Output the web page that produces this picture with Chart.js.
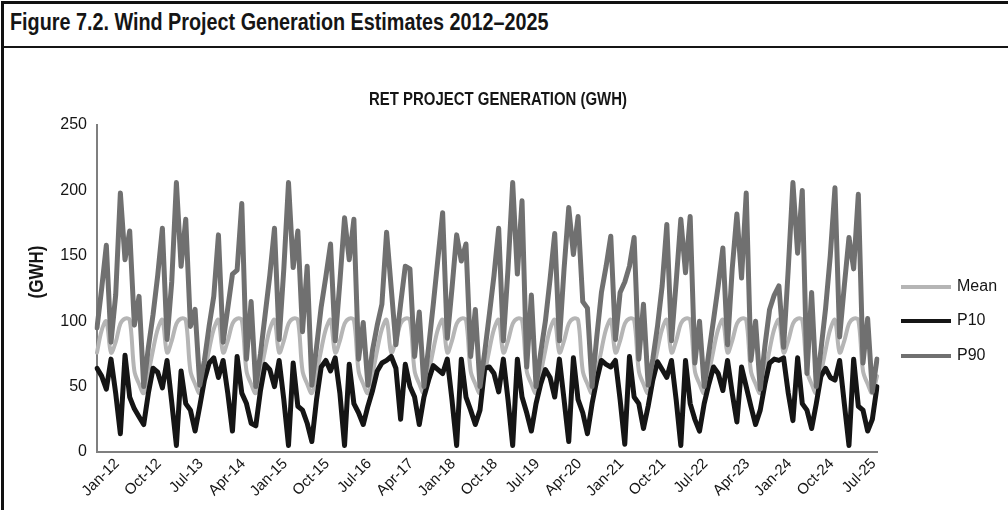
<!DOCTYPE html>
<html><head><meta charset="utf-8">
<script src="https://cdn.jsdelivr.net/npm/chart.js@4.4.1/dist/chart.umd.min.js"></script>
<style>
html,body{margin:0;padding:0;background:#fff;}
#wrap{position:relative;width:1008px;height:510px;overflow:hidden;background:#fff;}
#frame{position:absolute;left:1px;top:1px;width:1020px;height:530px;border-left:3px solid #111;border-top:3px solid #111;}
#fig{position:absolute;left:10px;top:9px;font-family:"Liberation Sans",Arial,sans-serif;font-weight:bold;font-size:23px;color:#151515;white-space:nowrap;transform:scaleX(0.86);transform-origin:0 0;}
#rule{position:absolute;left:4px;top:46px;width:1004px;height:2px;background:#151515;}
canvas{position:absolute;left:0;top:0;}
</style></head>
<body><div id="wrap"><div id="frame"></div><div id="fig">Figure 7.2. Wind Project Generation Estimates 2012–2025</div><div id="rule"></div><canvas id="c" width="1008" height="510"></canvas></div>
<script>
const MONTHS = ['Jan','Feb','Mar','Apr','May','Jun','Jul','Aug','Sep','Oct','Nov','Dec'];
const YEARS = ['12','13','14','15','16','17','18','19','20','21','22','23','24','25'];
const categories = [];
YEARS.forEach(y => MONTHS.forEach(m => categories.push(m + '-' + y)));

const tickLabels = ['Jan-12','Oct-12','Jul-13','Apr-14','Jan-15','Oct-15','Jul-16','Apr-17','Jan-18','Oct-18','Jul-19','Apr-20','Jan-21','Oct-21','Jul-22','Apr-23','Jan-24','Oct-24','Jul-25'];

const meanGWh = [
 76,93,100,76,84,98,102,101,62,52,45,60,
 78,94,101,76,85,98,102,101,62,52,45,60,
 78,94,101,76,85,98,102,101,62,52,45,60,
 78,94,101,76,85,98,102,101,62,52,45,60,
 78,94,101,76,85,98,102,101,62,52,45,60,
 78,94,101,76,85,98,102,101,62,52,45,60,
 78,94,101,76,85,98,102,101,62,52,45,60,
 78,94,101,76,85,98,102,101,62,52,45,60,
 78,94,101,76,85,98,102,101,62,52,45,60,
 78,94,101,76,85,98,102,101,62,52,45,60,
 78,94,101,76,85,98,102,101,62,52,45,60,
 78,94,101,76,85,98,102,101,62,52,45,60,
 78,94,101,76,85,98,102,101,62,52,45,60,
 78,94,101,76,85,98,102,101,62,52,45,58
];

const p10GWh = [
 64,58,48,71,45,14,74,42,33,27,21,45,
 64,61,49,70,38,5,62,37,32,16,35,55,
 68,72,57,70,45,16,73,45,37,22,20,47,
 67,63,50,70,40,5,68,35,32,22,8,40,
 65,70,62,72,45,5,67,37,30,21,35,47,
 62,68,70,73,64,25,67,50,42,21,42,55,
 66,63,60,71,40,5,71,42,32,21,32,64,
 65,60,46,71,40,5,71,42,30,16,37,52,
 63,57,42,71,40,8,72,40,30,14,37,55,
 70,67,65,70,40,6,73,42,37,18,35,55,
 69,63,57,70,40,5,70,37,25,16,37,52,
 65,60,47,70,45,23,65,50,35,21,32,52,
 68,71,70,72,45,24,72,37,32,18,37,58,
 64,57,55,70,37,5,71,35,32,16,25,50
];

const p90GWh = [
 95,125,158,84,120,198,147,169,97,119,50,80,
 105,135,171,86,130,206,142,178,96,109,51,70,
 96,119,166,84,110,136,139,190,71,115,50,75,
 105,135,171,86,140,206,141,169,92,142,51,80,
 111,134,159,85,130,179,147,178,71,99,51,78,
 97,113,168,125,82,113,142,140,73,107,50,80,
 113,148,183,87,125,166,146,159,73,109,50,76,
 105,135,171,85,140,206,136,192,65,120,50,76,
 100,132,167,85,140,187,151,180,115,110,50,88,
 122,142,165,86,122,130,142,164,71,113,51,71,
 96,127,174,85,130,178,137,180,68,100,50,76,
 101,127,156,82,140,182,133,198,70,100,48,81,
 109,120,127,80,140,206,152,200,60,122,50,78,
 110,150,202,88,127,164,140,197,68,102,46,71
];

const seriesNames = ['Mean','P10','P90'];
const seriesColors = ['#b5b5b5','#151515','#707070'];

const FONT = '"Liberation Sans", Arial, sans-serif';

const overlayPlugin = {
  id: 'overlay',
  afterDraw(chart) {
    const ctx = chart.ctx;
    const a = chart.chartArea;
    ctx.save();
    ctx.fillStyle = '#151515';
    ctx.textAlign = 'center';
    ctx.textBaseline = 'middle';
    // chart title (condensed look)
    ctx.save();
    ctx.translate(498, 100);
    ctx.scale(0.83, 1);
    ctx.font = 'bold 18px ' + FONT;
    ctx.fillText('RET PROJECT GENERATION (GWH)', 0, 0);
    ctx.restore();
    // y axis title
    ctx.save();
    ctx.translate(37, 272);
    ctx.rotate(-Math.PI / 2);
    ctx.scale(0.85, 1);
    ctx.font = 'bold 20px ' + FONT;
    ctx.fillText('(GWH)', 0, 0);
    ctx.restore();
    // legend
    const rows = [a.top + 162, a.top + 196, a.top + 231];
    ctx.font = '16px ' + FONT;
    ctx.textAlign = 'left';
    chart.data.datasets.forEach((ds, k) => {
      const y = rows[k];
      ctx.strokeStyle = ds.borderColor;
      ctx.lineWidth = 4;
      ctx.beginPath();
      ctx.moveTo(a.right + 24, y);
      ctx.lineTo(a.right + 74, y);
      ctx.stroke();
      ctx.fillStyle = '#151515';
      ctx.fillText(ds.label, a.right + 80, y);
    });
    ctx.restore();
  }
};

new Chart(document.getElementById('c'), {
  type: 'line',
  data: {
    labels: categories,
    datasets: [
      { label: seriesNames[0], data: meanGWh, borderColor: seriesColors[0], backgroundColor: seriesColors[0], borderWidth: 4, pointRadius: 0, tension: 0.35, order: 2, borderJoinStyle: 'round', borderCapStyle: 'round' },
      { label: seriesNames[1], data: p10GWh, borderColor: seriesColors[1], backgroundColor: seriesColors[1], borderWidth: 5, pointRadius: 0, tension: 0, order: 1, borderJoinStyle: 'round', borderCapStyle: 'round' },
      { label: seriesNames[2], data: p90GWh, borderColor: seriesColors[2], backgroundColor: seriesColors[2], borderWidth: 5, pointRadius: 0, tension: 0, order: 0, borderJoinStyle: 'round', borderCapStyle: 'round' }
    ]
  },
  options: {
    responsive: false,
    animation: false,
    devicePixelRatio: 1,
    layout: { padding: { left: 0, top: 125, right: 131, bottom: 0 } },
    plugins: { legend: { display: false }, title: { display: false }, tooltip: { enabled: false } },
    scales: {
      x: {
        type: 'category',
        offset: false,
        grid: { display: false, drawTicks: false },
        border: { display: true, color: '#7f7f7f', width: 2 },
        afterFit(s) { s.height = 58; },
        ticks: {
          autoSkip: false, maxRotation: 45, minRotation: 45, padding: 3, labelOffset: 20,
          color: '#151515', font: { family: FONT, size: 15 },
          callback(v, i) { const c = categories[i]; return tickLabels.includes(c) ? c : ''; }
        }
      },
      y: {
        min: 0, max: 250,
        grid: { display: false, drawTicks: false },
        border: { display: true, color: '#7f7f7f', width: 2 },
        afterFit(s) { s.width = 97; },
        ticks: { stepSize: 50, padding: 10, color: '#151515', font: { family: FONT, size: 16 } }
      }
    }
  },
  plugins: [overlayPlugin]
});
</script>
</body></html>
